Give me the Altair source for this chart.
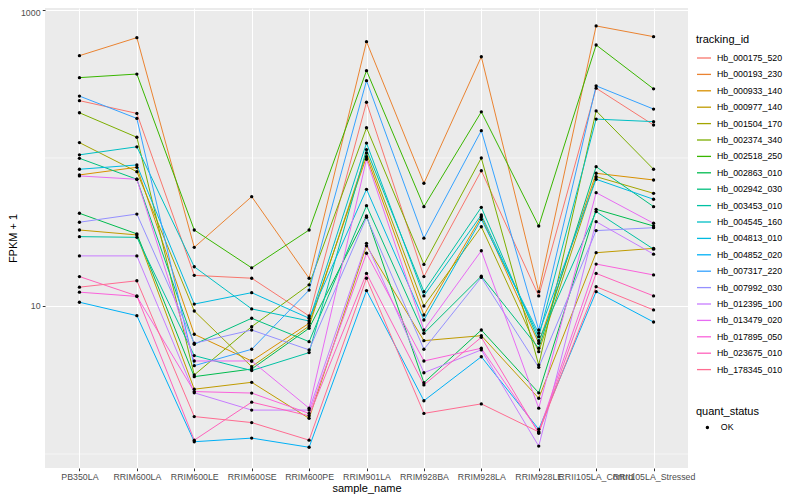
import altair as alt
import pandas as pd

samples = ["PB350LA", "RRIM600LA", "RRIM600LE", "RRIM600SE", "RRIM600PE", "RRIM901LA",
           "RRIM928BA", "RRIM928LA", "RRIM928LE", "RRII105LA_Control", "RRII105LA_Stressed"]

ids = ["Hb_000175_520", "Hb_000193_230", "Hb_000933_140", "Hb_000977_140", "Hb_001504_170",
       "Hb_002374_340", "Hb_002518_250", "Hb_002863_010", "Hb_002942_030", "Hb_003453_010",
       "Hb_004545_160", "Hb_004813_010", "Hb_004852_020", "Hb_007317_220", "Hb_007992_030",
       "Hb_012395_100", "Hb_013479_020", "Hb_017895_050", "Hb_023675_010", "Hb_178345_010"]

colors = ["#F8766D", "#EA8331", "#D89000", "#C09B00", "#A3A500", "#7CAE00", "#39B600", "#00BB4E",
          "#00BF7D", "#00C1A3", "#00BFC4", "#00BAE0", "#00B0F6", "#35A2FF", "#9590FF", "#C77CFF",
          "#E76BF3", "#FA62DB", "#FF62BC", "#FF6C91"]

# FPKM + 1 values, one list per tracking_id, in the order of `samples`
v_000175_520 = [244, 200, 16.1, 15.4, 8.56, 238, 15.8, 82, 11.7, 296, 167]
v_000193_230 = [491, 650, 24.9, 54.8, 15.4, 611, 67.5, 483, 12.5, 780, 660]
v_000933_140 = [76.8, 86.5, 6.44, 4.25, 7.64, 102, 8.69, 40.1, 5.60, 78.8, 71.0]
v_000977_140 = [32.6, 30.2, 2.74, 3.05, 1.74, 25.5, 5.83, 6.30, 2.38, 22.9, 24.5]
v_001504_170 = [127, 80.8, 9.25, 3.89, 7.32, 108, 10.0, 34.3, 4.91, 74.8, 57.7]
v_002374_340 = [202, 138, 3.42, 7.25, 13.9, 160, 19.1, 100, 3.99, 208, 83.9]
v_002518_250 = [349, 369, 32.6, 18.1, 32.6, 389, 46.9, 205, 34.7, 580, 293]
v_002863_010 = [42.3, 30.7, 3.33, 3.75, 7.07, 40.6, 3.03, 6.88, 2.59, 45.0, 34.7]
v_002942_030 = [99.5, 71.8, 5.51, 8.26, 5.74, 47.6, 6.54, 15.9, 5.18, 87.3, 46.9]
v_003453_010 = [29.4, 29.1, 4.62, 3.66, 4.84, 114, 12.5, 46.4, 5.83, 43.4, 24.2]
v_004545_160 = [105, 119, 18.4, 9.55, 7.92, 126, 11.7, 41.2, 6.20, 183, 176]
v_004813_010 = [83.9, 89.7, 10.3, 12.3, 8.26, 61.4, 8.04, 38.5, 6.54, 71.8, 52.6]
v_004852_020 = [10.6, 8.60, 1.21, 1.28, 1.11, 12.7, 2.29, 4.54, 1.47, 12.5, 7.79]
v_007317_220 = [262, 185, 3.95, 5.10, 12.8, 333, 28.7, 153, 6.88, 307, 214]
v_007992_030 = [36.8, 41.8, 5.60, 6.88, 5.05, 39.7, 5.10, 15.6, 3.85, 32.3, 33.8]
v_012395_100 = [21.8, 21.8, 2.59, 1.98, 1.98, 26.5, 3.54, 5.05, 1.13, 37.1, 22.4]
v_013479_020 = [75.6, 71.8, 4.25, 4.25, 2.04, 98, 6.88, 23.6, 2.04, 58.3, 36.2]
v_017895_050 = [12.4, 11.6, 2.64, 2.58, 1.88, 22.7, 4.25, 5.18, 1.41, 19.2, 16.2]
v_023675_010 = [15.8, 11.7, 1.24, 2.24, 1.81, 16.6, 2.93, 6.14, 1.38, 16.6, 11.7]
v_178345_010 = [13.4, 14.8, 1.79, 1.63, 1.24, 15.4, 1.88, 2.18, 1.41, 13.5, 9.40]

all_values = [v_000175_520, v_000193_230, v_000933_140, v_000977_140, v_001504_170,
              v_002374_340, v_002518_250, v_002863_010, v_002942_030, v_003453_010,
              v_004545_160, v_004813_010, v_004852_020, v_007317_220, v_007992_030,
              v_012395_100, v_013479_020, v_017895_050, v_023675_010, v_178345_010]

minor_breaks = [1, 100]
major_breaks = [10, 1000]

rows = []
for tid, vals in zip(ids, all_values):
    for s, v in zip(samples, vals):
        rows.append({"tracking_id": tid, "sample_name": s, "value": v, "quant_status": "OK"})
df = pd.DataFrame(rows)
df_minor = pd.DataFrame({"value": minor_breaks})

FONT = "Liberation Sans"

yscale = alt.Scale(type="log", domain=[0.804, 1031], nice=False)
xscale = alt.Scale(type="point", padding=0.6, domain=samples)

x_axis = alt.Axis(title="sample_name", labelAngle=0, grid=True, gridColor="white",
                  gridWidth=1.07, domain=False, tickColor="#333333", tickSize=2.75,
                  labelColor="#4D4D4D", labelFontSize=8.8, labelPadding=2.2,
                  titleFontSize=11, titleFontWeight="normal", titleColor="black",
                  titlePadding=1)
y_axis = alt.Axis(title="FPKM + 1", values=major_breaks, format="d", grid=True,
                  gridColor="white", gridWidth=1.07, domain=False,
                  tickColor="#333333", tickSize=2.75, labelColor="#4D4D4D",
                  labelFontSize=8.8, labelPadding=2.2, titleFontSize=11,
                  labelOffset={"condition": {"test": "datum.value >= 1000", "value": 2.5},
                               "value": 0},
                  titleFontWeight="normal", titleColor="black", titlePadding=2)

minor = alt.Chart(df_minor).mark_rule(color="white", strokeWidth=0.55).encode(
    y=alt.Y("value:Q", scale=yscale, axis=y_axis)
)

lines = alt.Chart(df).mark_line(strokeWidth=1).encode(
    x=alt.X("sample_name:N", sort=samples, scale=xscale, axis=x_axis),
    y=alt.Y("value:Q", scale=yscale, axis=y_axis),
    color=alt.Color("tracking_id:N", scale=alt.Scale(domain=ids, range=colors),
                    legend=alt.Legend(title="tracking_id", orient="none", legendX=651, legendY=26,
                                      symbolType="stroke", symbolSize=196, symbolStrokeWidth=1.3,
                                      rowPadding=3.4, labelFontSize=8.8, labelColor="black",
                                      titleFontSize=11, titleFontWeight="normal",
                                      titleColor="black", titlePadding=5, labelOffset=5)),
    detail="tracking_id:N",
)

points = alt.Chart(df).mark_point(filled=True, color="black", size=11, opacity=1).encode(
    x=alt.X("sample_name:N", sort=samples, scale=xscale, axis=x_axis),
    y=alt.Y("value:Q", scale=yscale, axis=y_axis),
    shape=alt.Shape("quant_status:N", scale=alt.Scale(domain=["OK"], range=["circle"]),
                    legend=alt.Legend(title="quant_status", orient="none", legendX=651, legendY=398,
                                      symbolSize=12, symbolFillColor="black",
                                      symbolStrokeColor="black", symbolOffset=7,
                                      labelFontSize=8.8, labelColor="black", titleFontSize=11,
                                      titleFontWeight="normal", titleColor="black",
                                      titlePadding=6, labelOffset=9)),
)

chart = alt.layer(minor, lines, points).properties(
    width=643, height=460,
    padding={"left": 37, "top": 0, "right": 104, "bottom": 32},
    autosize=alt.AutoSizeParams(type="none"),
).configure(font=FONT).configure_view(fill="#EBEBEB", strokeWidth=0)

chart.save("out.html", embed_options={"renderer": "svg", "actions": False})
